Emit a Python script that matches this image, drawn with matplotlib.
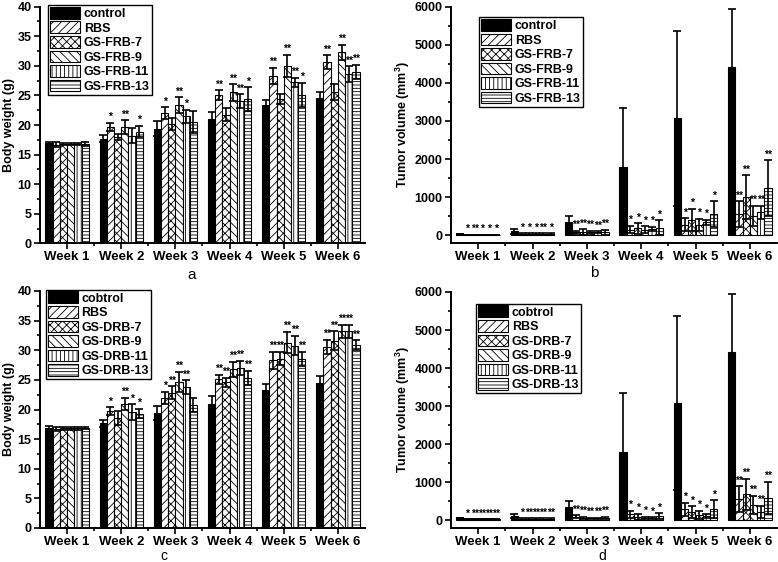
import matplotlib
matplotlib.use('Agg')
import matplotlib.pyplot as plt
from matplotlib.ticker import MultipleLocator, FixedLocator
import numpy as np

plt.rcParams['font.family'] = ['Liberation Sans', 'DejaVu Sans']
plt.rcParams['mathtext.default'] = 'regular'
plt.rcParams['hatch.linewidth'] = 0.6

weeks = ['Week 1', 'Week 2', 'Week 3', 'Week 4', 'Week 5', 'Week 6']
hatches = [None, '////', 'xxxx', '\\\\\\\\', '||||', '-----']

frb_names = ['control', 'RBS', 'GS-FRB-7', 'GS-FRB-9', 'GS-FRB-11', 'GS-FRB-13']
drb_names = ['cobtrol', 'RBS', 'GS-DRB-7', 'GS-DRB-9', 'GS-DRB-11', 'GS-DRB-13']

# body weight (g)
ctrl_w = [16.9, 17.7, 19.4, 21.0, 23.3, 24.5]
ctrl_w_err = [0.3, 0.6, 1.2, 1.2, 1.0, 1.1]
rbs_w = [16.7, 19.7, 22.0, 25.1, 28.3, 30.6]
rbs_w_err = [0.4, 0.7, 1.0, 0.8, 1.4, 1.2]
frb7_w = [16.8, 18.0, 20.2, 21.7, 24.4, 25.6]
frb7_w_err = [0.2, 0.5, 1.0, 1.1, 0.9, 1.3]
frb9_w = [16.8, 19.6, 23.4, 25.5, 30.0, 32.3]
frb9_w_err = [0.2, 1.2, 1.3, 1.4, 1.9, 1.3]
frb11_w = [16.8, 18.2, 21.5, 24.0, 27.2, 28.6]
frb11_w_err = [0.2, 1.3, 1.1, 1.2, 0.8, 1.3]
frb13_w = [16.8, 18.9, 20.5, 24.4, 25.1, 29.0]
frb13_w_err = [0.3, 1.0, 1.9, 2.0, 2.0, 1.2]

drb7_w = [16.8, 18.6, 22.8, 24.6, 28.6, 31.6]
drb7_w_err = [0.2, 1.2, 1.1, 0.8, 1.1, 1.6]
drb9_w = [16.8, 21.0, 24.7, 26.8, 31.3, 33.2]
drb9_w_err = [0.2, 1.0, 1.7, 1.3, 1.8, 1.1]
drb11_w = [16.8, 19.6, 23.8, 27.0, 30.8, 33.2]
drb11_w_err = [0.2, 1.3, 1.1, 1.2, 1.6, 1.1]
drb13_w = [16.9, 19.3, 20.8, 25.3, 28.5, 30.9]
drb13_w_err = [0.2, 0.8, 1.2, 1.2, 1.2, 0.8]

# tumor volume (mm3)
ctrl_t = [40, 100, 340, 1800, 3070, 4420]
ctrl_t_err = [0, 60, 160, 1540, 2290, 1520]
rbs_t = [20, 30, 80, 150, 280, 550]
rbs_t_err = [0, 20, 40, 100, 170, 340]
frb7_t = [20, 30, 90, 180, 400, 1000]
frb7_t_err = [0, 20, 70, 140, 300, 570]
frb9_t = [20, 30, 80, 150, 270, 510]
frb9_t_err = [0, 20, 40, 90, 160, 260]
frb11_t = [20, 30, 80, 160, 340, 600]
frb11_t_err = [0, 20, 30, 60, 70, 170]
frb13_t = [20, 30, 80, 200, 560, 1240]
frb13_t_err = [0, 20, 70, 190, 330, 730]

drb7_t = [20, 30, 60, 90, 200, 680]
drb7_t_err = [0, 20, 30, 80, 160, 410]
drb9_t = [20, 30, 40, 50, 130, 400]
drb9_t_err = [0, 20, 20, 30, 110, 240]
drb11_t = [20, 30, 40, 50, 100, 220]
drb11_t_err = [0, 20, 20, 20, 50, 160]
drb13_t = [20, 30, 60, 100, 280, 590]
drb13_t_err = [0, 20, 30, 80, 240, 420]

# significance marks, one list per group (week 1..6)
stars_a = [['', '', '', '', '', ''],
           ['', '*', '*', '**', '**', '**'],
           ['', '', '', '', '', ''],
           ['', '**', '**', '**', '**', '**'],
           ['', '', '*', '**', '**', '**'],
           ['', '*', '', '*', '*', '**']]
stars_b = [['', '', '', '', '', ''],
           ['*', '*', '**', '*', '*', '**'],
           ['**', '*', '**', '*', '*', '**'],
           ['*', '*', '**', '*', '*', '**'],
           ['*', '**', '**', '*', '*', '**'],
           ['*', '*', '**', '*', '*', '**']]
stars_c = [['', '', '', '', '', ''],
           ['', '*', '*', '**', '**', '**'],
           ['', '', '**', '**', '**', '**'],
           ['', '**', '**', '**', '**', '**'],
           ['', '*', '**', '**', '**', '**'],
           ['', '*', '', '**', '**', '**']]
stars_d = [['', '', '', '', '', ''],
           ['*', '*', '**', '*', '*', '**'],
           ['**', '**', '**', '*', '*', '**'],
           ['**', '**', '**', '*', '*', '**'],
           ['**', '**', '**', '*', '*', '**'],
           ['**', '**', '**', '*', '*', '**']]


def draw_panel(ax, values, errors, stars, names, ylabel, ymax, ymin, major, minor, leg_anchor):
    x = np.arange(1, len(weeks) + 1)
    w = 0.8 / len(values)
    handles = []
    for i in range(len(values)):
        pos = x - 0.4 + w * (i + 0.5)
        if i == 0:
            bars = ax.bar(pos, values[i], w, color='black', edgecolor='black', linewidth=0.8)
        else:
            bars = ax.bar(pos, values[i], w, color='white', edgecolor='black',
                          linewidth=0.8, hatch=hatches[i])
        handles.append(bars)
        ax.errorbar(pos, values[i], yerr=errors[i], fmt='none', ecolor='black',
                    elinewidth=1.2, capsize=2.8, capthick=1.2)
        for j in range(len(weeks)):
            if stars[i][j]:
                ax.annotate(stars[i][j], (pos[j], values[i][j] + errors[i][j]),
                            xytext=(0, 0.5), textcoords='offset points',
                            ha='center', va='bottom', fontsize=7.5, fontweight='bold')
    ax.set_xlim(0.5, 6.5)
    ax.set_ylim(ymin, ymax)
    ax.set_xticks(x)
    ax.set_xticklabels(weeks, fontsize=9.5, fontweight='bold')
    ax.xaxis.set_minor_locator(FixedLocator(np.arange(1.5, 6.5, 1.0)))
    ax.yaxis.set_major_locator(FixedLocator(np.arange(0, ymax + 1, major)))
    ax.yaxis.set_minor_locator(MultipleLocator(minor))
    for lab in ax.get_yticklabels():
        lab.set_fontsize(9)
        lab.set_fontweight('bold')
    ax.tick_params(which='both', direction='out', width=1.2, length=4)
    ax.tick_params(axis='y', pad=2)
    ax.tick_params(axis='x', pad=1.5)
    ax.tick_params(which='minor', length=2.5)
    ax.spines['top'].set_visible(False)
    ax.spines['right'].set_visible(False)
    ax.spines['left'].set_linewidth(1.4)
    ax.spines['bottom'].set_linewidth(1.4)
    ax.set_ylabel(ylabel, fontsize=9, fontweight='bold', labelpad=2)
    leg = ax.legend(handles, names, loc='upper left', bbox_to_anchor=leg_anchor,
                    prop={'size': 9, 'weight': 'bold'}, fancybox=False, framealpha=1,
                    edgecolor='black', handlelength=2.4, handleheight=1.05,
                    labelspacing=0.12, borderpad=0.15, handletextpad=0.3,
                    borderaxespad=0)
    leg.get_frame().set_linewidth(1.0)


fig = plt.figure(figsize=(7.78, 5.62), dpi=100)
W, H = 778.0, 562.0

ax_a = fig.add_axes([40 / W, 1 - 243.3 / H, 325 / W, 236.6 / H])
ax_b = fig.add_axes([451 / W, 1 - 243.3 / H, 326 / W, 236.6 / H])
ax_c = fig.add_axes([40 / W, 1 - 528 / H, 325 / W, 237 / H])
ax_d = fig.add_axes([451 / W, 1 - 528 / H, 326 / W, 236 / H])

draw_panel(ax_a,
           [ctrl_w, rbs_w, frb7_w, frb9_w, frb11_w, frb13_w],
           [ctrl_w_err, rbs_w_err, frb7_w_err, frb9_w_err, frb11_w_err, frb13_w_err],
           stars_a, frb_names, 'Body weight (g)', 40, 0, 5, 2.5, (0.025, 1.007))
draw_panel(ax_b,
           [ctrl_t, rbs_t, frb7_t, frb9_t, frb11_t, frb13_t],
           [ctrl_t_err, rbs_t_err, frb7_t_err, frb9_t_err, frb11_t_err, frb13_t_err],
           stars_b, frb_names, 'Tumor volume (mm$^{3}$)', 6000, -210, 1000, 500, (0.086, 0.956))
draw_panel(ax_c,
           [ctrl_w, rbs_w, drb7_w, drb9_w, drb11_w, drb13_w],
           [ctrl_w_err, rbs_w_err, drb7_w_err, drb9_w_err, drb11_w_err, drb13_w_err],
           stars_c, drb_names, 'Body weight (g)', 40, 0, 5, 2.5, (0.018, 1.006))
draw_panel(ax_d,
           [ctrl_t, rbs_t, drb7_t, drb9_t, drb11_t, drb13_t],
           [ctrl_t_err, rbs_t_err, drb7_t_err, drb9_t_err, drb11_t_err, drb13_t_err],
           stars_d, drb_names, 'Tumor volume (mm$^{3}$)', 6000, -210, 1000, 500, (0.077, 0.951))

fig.text(192 / W, 1 - 275 / H, 'a', ha='center', va='center', fontsize=11)
fig.text(594 / W, 1 - 273 / H, 'b', ha='center', va='center', fontsize=11)
fig.text(164 / W, 1 - 556 / H, 'c', ha='center', va='center', fontsize=10)
fig.text(602 / W, 1 - 556 / H, 'd', ha='center', va='center', fontsize=10)

fig.savefig('out.png', dpi=100)
plt.close(fig)
